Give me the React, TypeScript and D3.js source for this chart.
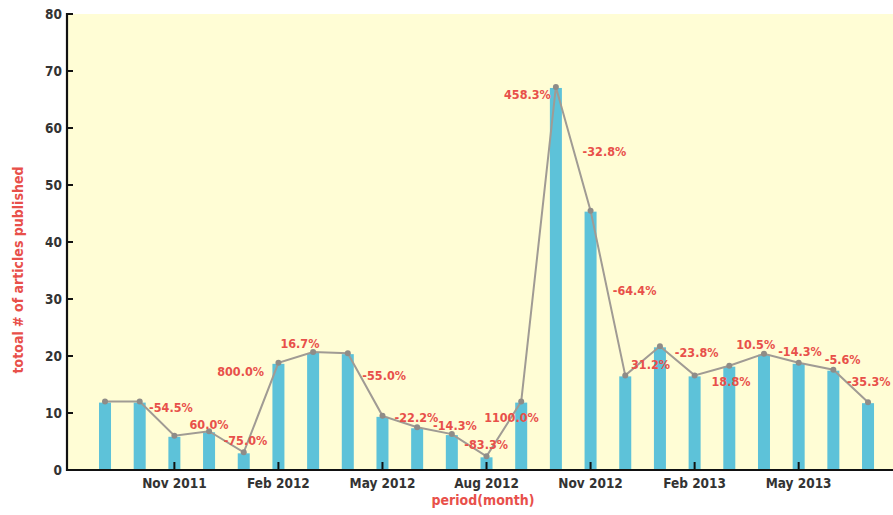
import React from "react";
import * as d3 from "d3";

const months: string[] = [
  "Sep 2011", "Oct 2011", "Nov 2011", "Dec 2011", "Jan 2012", "Feb 2012", "Mar 2012", "Apr 2012",
  "May 2012", "Jun 2012", "Jul 2012", "Aug 2012", "Sep 2012", "Oct 2012", "Nov 2012", "Dec 2012",
  "Jan 2013", "Feb 2013", "Mar 2013", "Apr 2013", "May 2013", "Jun 2013", "Jul 2013",
];
const articles: number[] = [
  12, 12, 6, 6.8, 3.1, 18.8, 20.7, 20.5, 9.5, 7.5, 6.3, 2.4, 12, 67.2, 45.5, 16.6, 21.7, 16.6, 18.3, 20.4,
  18.8, 17.6, 11.9,
];
const xTickMonths: string[] = ["Nov 2011", "Feb 2012", "May 2012", "Aug 2012", "Nov 2012", "Feb 2013", "May 2013"];
const yTicks: number[] = [0, 10, 20, 30, 40, 50, 60, 70, 80];

const changeLabels: string[] = [
  "-54.5%", "60.0%", "-75.0%", "800.0%", "16.7%", "-55.0%", "-22.2%", "-14.3%", "-83.3%", "1100.0%",
  "458.3%", "-32.8%", "-64.4%", "31.2%", "-23.8%", "18.8%", "10.5%", "-14.3%", "-5.6%", "-35.3%",
];
// label anchor in data space: month index, value
const labelMonthPos: number[] = [
  1.9, 3.0, 4.05, 3.91, 5.62, 8.05, 8.98, 10.09, 10.99, 11.72, 12.18, 14.4, 15.27, 15.73, 17.06, 18.05,
  18.76, 20.04, 21.27, 22.02,
];
const labelValuePos: number[] = [
  10.93, 8.02, 5.09, 17.25, 22.11, 16.54, 9.25, 7.89, 4.39, 9.25, 65.96, 55.84, 31.46, 18.54, 20.58,
  15.61, 22.05, 20.75, 19.42, 15.61,
];

const W = 893;
const H = 515;
const left = 67;
const top = 14;
const bottom = 470;
const right = 893;

const FONT = "'DejaVu Sans Condensed', 'Liberation Sans Narrow', 'DejaVu Sans', sans-serif";
const RED = "#e8504a";

export default function App() {
  const x = d3.scaleLinear().domain([-1.096, 22.72]).range([left, right]);
  const y = d3.scaleLinear().domain([0, 80]).range([bottom, top]);
  const barW = 12;
  const line = d3
    .line<number>()
    .x((_, i) => x(i))
    .y((d) => y(d));

  return (
    <div style={{ position: "absolute", left: 0, top: 0 }}>
      <svg width={W} height={H} style={{ display: "block", background: "#ffffff" }} fontFamily={FONT}>
        <rect x={left} y={top} width={right - left} height={bottom - top} fill="#fffdd5" />
        {articles.map((v, i) => (
          <rect key={i} x={x(i) - barW / 2} y={y(v) + 1} width={barW} height={y(0) - y(v) - 1} fill="#5dc2d9" />
        ))}
        <path d={line(articles) || ""} fill="none" stroke="#a09b94" strokeWidth={2} />
        {articles.map((v, i) => (
          <circle key={i} cx={x(i)} cy={y(v)} r={3} fill="#8f8c88" />
        ))}
        {changeLabels.map((t, i) => (
          <text
            key={i}
            x={x(labelMonthPos[i])}
            y={y(labelValuePos[i])}
            textAnchor="middle"
            dominantBaseline="central"
            fontSize={12.5}
            fontWeight="bold"
            fontStretch="condensed"
            fill={RED}
          >
            {t}
          </text>
        ))}
        {/* axes */}
        <line x1={left} y1={top - 1} x2={left} y2={bottom + 1} stroke="#111" strokeWidth={2.2} />
        <line x1={left - 1} y1={bottom} x2={right} y2={bottom} stroke="#111" strokeWidth={2.2} />
        {yTicks.map((t) => (
          <g key={t}>
            <line x1={left} x2={left + 6} y1={y(t)} y2={y(t)} stroke="#111" strokeWidth={2} />
            <text
              x={left - 5}
              y={y(t)}
              textAnchor="end"
              dominantBaseline="central"
              fontSize={13.5}
              fontWeight="bold"
              fontStretch="condensed"
              fill="#333"
            >
              {t}
            </text>
          </g>
        ))}
        {xTickMonths.map((m) => {
          const i = months.indexOf(m);
          return (
            <g key={m}>
              <line x1={x(i)} x2={x(i)} y1={bottom} y2={bottom - 8} stroke="#111" strokeWidth={2} />
              <text
                x={x(i)}
                y={488}
                textAnchor="middle"
                fontSize={13.5}
                fontWeight="bold"
                fontStretch="condensed"
                fill="#333"
              >
                {m}
              </text>
            </g>
          );
        })}
        <text
          x={483}
          y={505}
          textAnchor="middle"
          fontSize={14}
          fontWeight="bold"
          fontStretch="condensed"
          fill={RED}
        >
          period(month)
        </text>
        <text
          transform={`translate(18, 270) rotate(-90)`}
          textAnchor="middle"
          dominantBaseline="central"
          fontSize={14}
          fontWeight="bold"
          fontStretch="condensed"
          fill={RED}
        >
          totoal # of articles published
        </text>
      </svg>
    </div>
  );
}
